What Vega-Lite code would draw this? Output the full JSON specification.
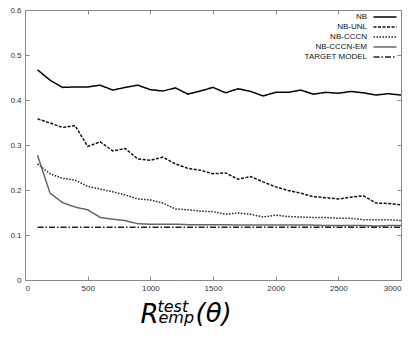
{
  "$schema": "https://vega.github.io/schema/vega-lite/v6.json",
  "autosize": "none",
  "width": 376,
  "height": 270,
  "padding": {"left": 25, "top": 10, "right": 11, "bottom": 63},
  "background": "white",
  "config": {
    "view": {"stroke": "#888", "strokeWidth": 1},
    "axis": {"domain": false, "grid": false, "tickColor": "#888", "labelFont": "Liberation Sans", "labelFontSize": 8, "labelColor": "#333"},
    "legend": {"orient": "none", "legendX": 354, "legendY": 1, "padding": 0, "title": null, "symbolType": "M-2.3,0H2.3", "symbolSize": 100, "labelAlign": "right", "labelOffset": -24, "labelFont": "Liberation Sans", "labelFontSize": 8, "labelColor": "#111", "rowPadding": -2.5}
  },
  "data": {"values": [
    {"x":100,"v":0.467,"s":"NB"},{"x":200,"v":0.444,"s":"NB"},{"x":300,"v":0.428,"s":"NB"},{"x":400,"v":0.429,"s":"NB"},{"x":500,"v":0.429,"s":"NB"},{"x":600,"v":0.433,"s":"NB"},{"x":700,"v":0.422,"s":"NB"},{"x":800,"v":0.428,"s":"NB"},{"x":900,"v":0.433,"s":"NB"},{"x":1000,"v":0.423,"s":"NB"},{"x":1100,"v":0.42,"s":"NB"},{"x":1200,"v":0.427,"s":"NB"},{"x":1300,"v":0.413,"s":"NB"},{"x":1400,"v":0.42,"s":"NB"},{"x":1500,"v":0.428,"s":"NB"},{"x":1600,"v":0.416,"s":"NB"},{"x":1700,"v":0.425,"s":"NB"},{"x":1800,"v":0.419,"s":"NB"},{"x":1900,"v":0.409,"s":"NB"},{"x":2000,"v":0.417,"s":"NB"},{"x":2100,"v":0.417,"s":"NB"},{"x":2200,"v":0.422,"s":"NB"},{"x":2300,"v":0.413,"s":"NB"},{"x":2400,"v":0.417,"s":"NB"},{"x":2500,"v":0.415,"s":"NB"},{"x":2600,"v":0.419,"s":"NB"},{"x":2700,"v":0.416,"s":"NB"},{"x":2800,"v":0.411,"s":"NB"},{"x":2900,"v":0.414,"s":"NB"},{"x":3000,"v":0.411,"s":"NB"},
    {"x":100,"v":0.358,"s":"NB-UNL"},{"x":200,"v":0.349,"s":"NB-UNL"},{"x":300,"v":0.339,"s":"NB-UNL"},{"x":400,"v":0.343,"s":"NB-UNL"},{"x":500,"v":0.297,"s":"NB-UNL"},{"x":600,"v":0.307,"s":"NB-UNL"},{"x":700,"v":0.287,"s":"NB-UNL"},{"x":800,"v":0.292,"s":"NB-UNL"},{"x":900,"v":0.269,"s":"NB-UNL"},{"x":1000,"v":0.266,"s":"NB-UNL"},{"x":1100,"v":0.273,"s":"NB-UNL"},{"x":1200,"v":0.258,"s":"NB-UNL"},{"x":1300,"v":0.248,"s":"NB-UNL"},{"x":1400,"v":0.244,"s":"NB-UNL"},{"x":1500,"v":0.236,"s":"NB-UNL"},{"x":1600,"v":0.238,"s":"NB-UNL"},{"x":1700,"v":0.224,"s":"NB-UNL"},{"x":1800,"v":0.23,"s":"NB-UNL"},{"x":1900,"v":0.218,"s":"NB-UNL"},{"x":2000,"v":0.207,"s":"NB-UNL"},{"x":2100,"v":0.199,"s":"NB-UNL"},{"x":2200,"v":0.193,"s":"NB-UNL"},{"x":2300,"v":0.185,"s":"NB-UNL"},{"x":2400,"v":0.183,"s":"NB-UNL"},{"x":2500,"v":0.18,"s":"NB-UNL"},{"x":2600,"v":0.184,"s":"NB-UNL"},{"x":2700,"v":0.187,"s":"NB-UNL"},{"x":2800,"v":0.171,"s":"NB-UNL"},{"x":2900,"v":0.17,"s":"NB-UNL"},{"x":3000,"v":0.167,"s":"NB-UNL"},
    {"x":100,"v":0.258,"s":"NB-CCCN"},{"x":200,"v":0.236,"s":"NB-CCCN"},{"x":300,"v":0.226,"s":"NB-CCCN"},{"x":400,"v":0.222,"s":"NB-CCCN"},{"x":500,"v":0.208,"s":"NB-CCCN"},{"x":600,"v":0.202,"s":"NB-CCCN"},{"x":700,"v":0.196,"s":"NB-CCCN"},{"x":800,"v":0.189,"s":"NB-CCCN"},{"x":900,"v":0.18,"s":"NB-CCCN"},{"x":1000,"v":0.178,"s":"NB-CCCN"},{"x":1100,"v":0.171,"s":"NB-CCCN"},{"x":1200,"v":0.158,"s":"NB-CCCN"},{"x":1300,"v":0.156,"s":"NB-CCCN"},{"x":1400,"v":0.153,"s":"NB-CCCN"},{"x":1500,"v":0.152,"s":"NB-CCCN"},{"x":1600,"v":0.146,"s":"NB-CCCN"},{"x":1700,"v":0.149,"s":"NB-CCCN"},{"x":1800,"v":0.146,"s":"NB-CCCN"},{"x":1900,"v":0.14,"s":"NB-CCCN"},{"x":2000,"v":0.144,"s":"NB-CCCN"},{"x":2100,"v":0.141,"s":"NB-CCCN"},{"x":2200,"v":0.14,"s":"NB-CCCN"},{"x":2300,"v":0.139,"s":"NB-CCCN"},{"x":2400,"v":0.139,"s":"NB-CCCN"},{"x":2500,"v":0.137,"s":"NB-CCCN"},{"x":2600,"v":0.137,"s":"NB-CCCN"},{"x":2700,"v":0.134,"s":"NB-CCCN"},{"x":2800,"v":0.134,"s":"NB-CCCN"},{"x":2900,"v":0.134,"s":"NB-CCCN"},{"x":3000,"v":0.132,"s":"NB-CCCN"},
    {"x":100,"v":0.277,"s":"NB-CCCN-EM"},{"x":200,"v":0.193,"s":"NB-CCCN-EM"},{"x":300,"v":0.172,"s":"NB-CCCN-EM"},{"x":400,"v":0.162,"s":"NB-CCCN-EM"},{"x":500,"v":0.156,"s":"NB-CCCN-EM"},{"x":600,"v":0.139,"s":"NB-CCCN-EM"},{"x":700,"v":0.135,"s":"NB-CCCN-EM"},{"x":800,"v":0.132,"s":"NB-CCCN-EM"},{"x":900,"v":0.125,"s":"NB-CCCN-EM"},{"x":1000,"v":0.124,"s":"NB-CCCN-EM"},{"x":1100,"v":0.124,"s":"NB-CCCN-EM"},{"x":1200,"v":0.124,"s":"NB-CCCN-EM"},{"x":1300,"v":0.123,"s":"NB-CCCN-EM"},{"x":1400,"v":0.123,"s":"NB-CCCN-EM"},{"x":1500,"v":0.123,"s":"NB-CCCN-EM"},{"x":1600,"v":0.123,"s":"NB-CCCN-EM"},{"x":1700,"v":0.122,"s":"NB-CCCN-EM"},{"x":1800,"v":0.122,"s":"NB-CCCN-EM"},{"x":1900,"v":0.122,"s":"NB-CCCN-EM"},{"x":2000,"v":0.122,"s":"NB-CCCN-EM"},{"x":2100,"v":0.122,"s":"NB-CCCN-EM"},{"x":2200,"v":0.122,"s":"NB-CCCN-EM"},{"x":2300,"v":0.122,"s":"NB-CCCN-EM"},{"x":2400,"v":0.121,"s":"NB-CCCN-EM"},{"x":2500,"v":0.121,"s":"NB-CCCN-EM"},{"x":2600,"v":0.121,"s":"NB-CCCN-EM"},{"x":2700,"v":0.121,"s":"NB-CCCN-EM"},{"x":2800,"v":0.12,"s":"NB-CCCN-EM"},{"x":2900,"v":0.121,"s":"NB-CCCN-EM"},{"x":3000,"v":0.121,"s":"NB-CCCN-EM"},
    {"x":100,"v":0.117,"s":"TARGET MODEL"},{"x":3000,"v":0.117,"s":"TARGET MODEL"}
  ]},
  "resolve": {"axis": {"x": "independent", "y": "independent"}},
  "layer": [
    {
      "mark": {"type": "line", "strokeCap": "butt"},
      "encoding": {
        "x": {"field": "x", "type": "quantitative", "scale": {"domain": [0, 3000], "nice": false},
          "axis": {"orient": "bottom", "values": [0,500,1000,1500,2000,2500,3000], "format": "d", "tickSize": -4, "labelPadding": 8,
            "title": "R", "titleX": 115, "titleY": 42, "titleAlign": "left", "titleBaseline": "alphabetic", "titleFont": "DejaVu Sans", "titleFontStyle": "italic", "titleFontWeight": "normal", "titleFontSize": 26, "titleColor": "#000"}},
        "y": {"field": "v", "type": "quantitative", "scale": {"domain": [0, 0.6], "nice": false},
          "axis": {"orient": "left", "values": [0,0.1,0.2,0.3,0.4,0.5,0.6], "format": ".1~f", "tickSize": -4, "labelPadding": 8,
            "title": "emp", "titleAngle": 0, "titleX": 133, "titleY": 312, "titleAlign": "left", "titleBaseline": "alphabetic", "titleFont": "DejaVu Sans", "titleFontStyle": "italic", "titleFontWeight": "normal", "titleFontSize": 16, "titleColor": "#000"}},
        "detail": {"field": "s"},
        "color": {"field": "s", "type": "nominal", "scale": {"domain": ["NB","NB-UNL","NB-CCCN","NB-CCCN-EM","TARGET MODEL"], "range": ["#000","#111","#222","#666","#222"]}},
        "strokeDash": {"field": "s", "type": "nominal", "scale": {"domain": ["NB","NB-UNL","NB-CCCN","NB-CCCN-EM","TARGET MODEL"], "range": [[1,0],[3,1.5],[1.5,1.5],[1,0],[6,2,1.5,2]]}},
        "strokeWidth": {"field": "s", "type": "nominal", "scale": {"domain": ["NB","NB-UNL","NB-CCCN","NB-CCCN-EM","TARGET MODEL"], "range": [1.5,1.5,1.2,1,1.3]}}
      }
    },
    {
      "mark": {"type": "point", "opacity": 0},
      "encoding": {
        "x": {"field": "x", "type": "quantitative",
          "axis": {"orient": "top", "values": [0,500,1000,1500,2000,2500,3000], "labels": false, "tickSize": -4,
            "title": "test", "titleX": 132, "titleY": 301, "titleAlign": "left", "titleBaseline": "alphabetic", "titleFont": "DejaVu Sans", "titleFontStyle": "italic", "titleFontWeight": "normal", "titleFontSize": 16, "titleColor": "#000"}},
        "y": {"field": "v", "type": "quantitative",
          "axis": {"orient": "right", "values": [0,0.1,0.2,0.3,0.4,0.5,0.6], "labels": false, "tickSize": -4,
            "title": "(θ)", "titleAngle": 0, "titleX": -206, "titleY": 311, "titleAlign": "left", "titleBaseline": "alphabetic", "titleFont": "DejaVu Sans", "titleFontStyle": "italic", "titleFontWeight": "normal", "titleFontSize": 26, "titleColor": "#000"}}
      }
    }
  ]
}
